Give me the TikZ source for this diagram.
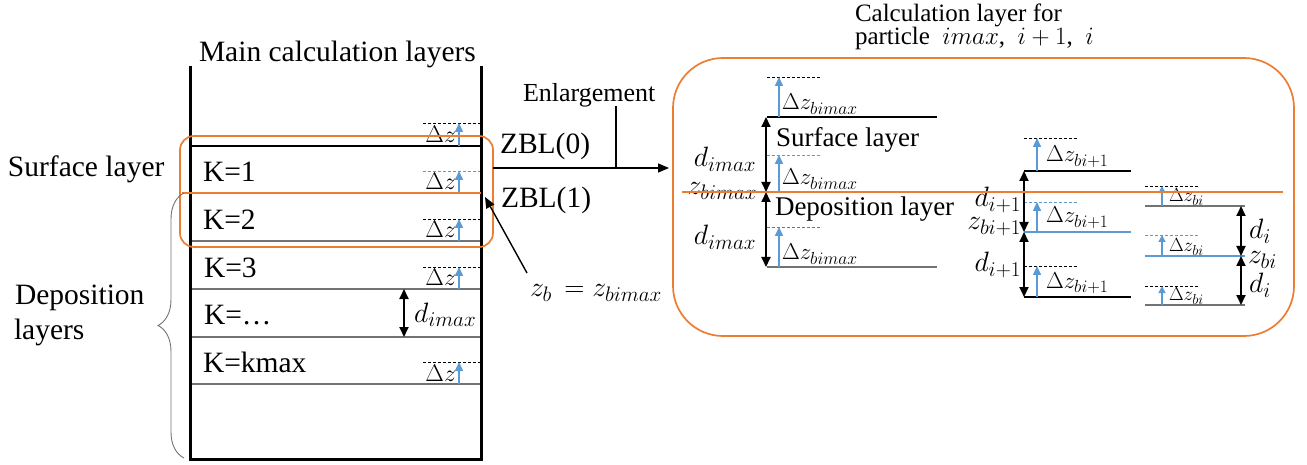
\RequirePackage{fix-cm}
\documentclass[tikz,border=0pt]{standalone}
\usepackage{fontspec}
\setmainfont{Liberation Serif}
\newfontfamily\tnr{Liberation Serif}
\usetikzlibrary{arrows.meta,decorations.pathreplacing}

% larger sub/superscripts for the label sizes
\DeclareMathSizes{28}{28}{21}{16}
\DeclareMathSizes{24}{24}{18}{14}
\DeclareMathSizes{23}{23}{17.5}{13}
\DeclareMathSizes{19}{19}{14.5}{11}
\DeclareMathSizes{25}{25}{19}{14}

\definecolor{orng}{RGB}{237,125,49}
\definecolor{lblue}{RGB}{91,155,213}
\definecolor{lgray}{RGB}{115,115,115}

\tikzset{
  every node/.style={inner sep=0pt, outer sep=0pt},
  big/.style={font=\tnr\fontsize{29.5}{32}\selectfont},
  mid/.style={font=\tnr\fontsize{26}{29}\selectfont},
  ttl/.style={font=\tnr\fontsize{25}{27}\selectfont},
  boxtxt/.style={font=\tnr\fontsize{27}{30}\selectfont},
  mlab/.style={font=\tnr\fontsize{28}{30}\selectfont},
  dzbig/.style={font=\tnr\fontsize{24}{26}\selectfont},
  dzmid/.style={font=\tnr\fontsize{23}{25}\selectfont},
  dzsmall/.style={font=\tnr\fontsize{19}{21}\selectfont},
  wall/.style={line width=3pt},
  layer/.style={lgray, line width=1.3pt},
  dzdash/.style={dash pattern=on 3pt off 2pt, line width=0.9pt},
  dzarrow/.style={lblue, line width=1.6pt, -{Triangle[length=9pt,width=8pt]}},
  dzarrowsm/.style={lblue, line width=1.4pt, -{Triangle[length=7pt,width=7pt]}},
  dbl/.style={line width=1.8pt, {Triangle[length=10pt,width=9pt]}-{Triangle[length=10pt,width=9pt]}},
  pointer/.style={line width=1.4pt, -{Triangle[length=11pt,width=9pt]}},
  frame/.style={orng, line width=1.7pt},
}

% blue step arrow with its dashed target line:
% #1 arrow x, #2 base y, #3 target y, #4/#5 dash from/to x, #6 dash colour, #7 arrow style
\newcommand\dzmark[7]{%
  \draw[dzdash,#6] (#4,#3) -- (#5,#3);
  \draw[#7] (#1,#2) -- (#1,#3);
}

\begin{document}
\begin{tikzpicture}[x=1pt, y=-1pt]
\useasboundingbox (0,0) rectangle (1307,465);

% ---------- main calculation column ----------
\node[big, anchor=base west] (title) at (199,62) {Main calculation layers};

\draw[layer, black] (190,146) -- (481,146);
\draw[lblue, line width=1.3pt] (190,193.5) -- (481,193.5);
\foreach \yy in {241,289,337,384} \draw[layer] (190,\yy) -- (481,\yy);

\dzmark{459}{146}{123}{423}{481}{black}{dzarrow}
\dzmark{459}{193}{171}{423}{481}{lblue}{dzarrow}
\dzmark{459}{241}{219}{423}{481}{black}{dzarrow}
\dzmark{459}{289}{267}{423}{481}{black}{dzarrow}
\dzmark{459}{384}{362}{423}{481}{black}{dzarrow}
\foreach \yy/\nm in {143/a,190/b,238/c,286/d,381/e}
  \node[dzbig, anchor=base east] (dz\nm) at (456,\yy) {$\Delta z$};

\node[big, anchor=base west] (k1) at (203,182) {K=1};
\node[big, anchor=base west] (k2) at (203,230) {K=2};
\node[big, anchor=base west] (k3) at (204,277) {K=3};
\node[big, anchor=base west] (kd) at (204,324) {K=\dots};
\node[big, anchor=base west] (kmax) at (203,372) {K=kmax};

\coordinate (dtop) at (404,289);
\coordinate (dbot) at (404,337);
\draw[dbl] (dtop) -- (dbot);
\node[mlab, anchor=base west] (dlab) at (414,322) {$d_{imax}$};

\draw[wall] (190,66) -- (190,459) -- (481,459) -- (481,66);

% surface layer frame
\draw[frame, rounded corners=14pt] (180,136) rectangle (493,247);
\draw[frame] (182,193) -- (481,193);

\node[big, anchor=base west] (surf) at (8,177) {Surface layer};
\node[big, anchor=base west] (depo) at (15,305) {Deposition};
\node[big, anchor=base west] (depo2) at (14,339) {layers};
\draw[lgray, line width=0.9pt, decorate, decoration={brace, amplitude=26pt}]
  (184,458) -- (184,193);

% ---------- enlargement ----------
\node[big, anchor=base west] (zbl0) at (500,154) {ZBL(0)};
\node[big, anchor=base west] (zbl1) at (501,208) {ZBL(1)};
\node[mid, anchor=base west] (enl) at (523,102) {Enlargement};
\coordinate (enlfrom) at (493,168);
\coordinate (enlto) at (669,168);
\draw[pointer] (enlfrom) -- (enlto);
\coordinate (enlfoot) at (616,168);
\draw[line width=1.2pt] (616,106) -- (enlfoot);

\node[mlab, anchor=base west] (zb) at (530,297) {$z_b\,=z_{bimax}$};
\coordinate (zbtip) at (485,197);
\draw[pointer] (527,273) -- (zbtip);

% ---------- enlarged calculation layers ----------
\draw[frame, rounded corners=50pt] (673,58) rectangle (1294,336);
\node[ttl, anchor=base west] (rt1) at (855,22) {Calculation layer for};
\node[ttl, anchor=base west] (rt2) at (855,45) {particle \ $imax$, \ $i+1$, \ $i$};

% particle imax
\draw[line width=1.3pt] (767,117) -- (937,117);
\draw[lblue, line width=1.3pt] (767,192) -- (937,192);
\draw[layer] (767,267) -- (937,267);
\dzmark{779}{117}{77}{767}{820}{black}{dzarrow}
\dzmark{779}{192}{155}{767}{820}{lblue}{dzarrow}
\dzmark{779}{267}{227}{767}{820}{lgray}{dzarrow}
\draw[dbl] (766,117) -- (766,192);
\draw[dbl] (766,192) -- (766,267);
\node[dzmid, anchor=base west] (dza1) at (782,110) {$\Delta z_{bimax}$};
\node[dzmid, anchor=base west] (dza2) at (782,185) {$\Delta z_{bimax}$};
\node[dzmid, anchor=base west] (dza3) at (782,260) {$\Delta z_{bimax}$};
\node[boxtxt, anchor=base west] (sl) at (776,147) {Surface layer};
\node[boxtxt, anchor=base west] (dl) at (775,216) {Deposition layer};
\node[mlab, anchor=base east] (da1) at (756,167) {$d_{imax}$};
\node[mlab, anchor=base east] (za) at (757,195) {$z_{bimax}$};
\node[mlab, anchor=base east] (da2) at (756,245) {$d_{imax}$};

% particle i+1
\draw[line width=1.3pt] (1024,171) -- (1131,171);
\draw[lblue, line width=1.3pt] (1024,232) -- (1131,232);
\draw[line width=1.3pt] (1024,297) -- (1131,297);
\dzmark{1037}{171}{138}{1024}{1078}{black}{dzarrow}
\dzmark{1037}{232}{202}{1024}{1078}{lblue}{dzarrow}
\dzmark{1037}{297}{266}{1024}{1078}{black}{dzarrow}
\draw[dbl] (1024,171) -- (1024,232);
\draw[dbl] (1024,232) -- (1024,297);
\node[dzmid, anchor=base west] (dzb1) at (1046,162) {$\Delta z_{bi+1}$};
\node[dzmid, anchor=base west] (dzb2) at (1046,223) {$\Delta z_{bi+1}$};
\node[dzmid, anchor=base west] (dzb3) at (1046,288) {$\Delta z_{bi+1}$};
\node[mlab, anchor=base east] (db1) at (1021,207) {$d_{i+1}$};
\node[mlab, anchor=base east] (zbb) at (1021,230) {$z_{bi+1}$};
\node[mlab, anchor=base east] (db2) at (1021,272) {$d_{i+1}$};

% particle i
\draw[layer] (1145,206) -- (1245,206);
\draw[lblue, line width=1.3pt] (1145,256) -- (1245,256);
\draw[layer] (1145,305) -- (1245,305);
\dzmark{1162}{206}{186}{1145}{1198}{black}{dzarrowsm}
\dzmark{1162}{256}{235}{1145}{1198}{lblue}{dzarrowsm}
\dzmark{1162}{305}{286}{1145}{1198}{black}{dzarrowsm}
\draw[dbl] (1241,206) -- (1241,256);
\draw[dbl] (1241,256) -- (1241,305);
\node[dzsmall, anchor=base west] (dzc1) at (1169,202) {$\Delta z_{bi}$};
\node[dzsmall, anchor=base west] (dzc2) at (1169,252) {$\Delta z_{bi}$};
\node[dzsmall, anchor=base west] (dzc3) at (1169,301) {$\Delta z_{bi}$};
\node[mlab, anchor=base west] (dc1) at (1249,239) {$d_i$};
\node[mlab, anchor=base west] (zc) at (1248,264) {$z_{bi}$};
\node[mlab, anchor=base west] (dc2) at (1249,293) {$d_i$};

% surface / deposition boundary
\draw[orng, line width=1.3pt] (682,192) -- (1283,192);
\end{tikzpicture}
\end{document}
